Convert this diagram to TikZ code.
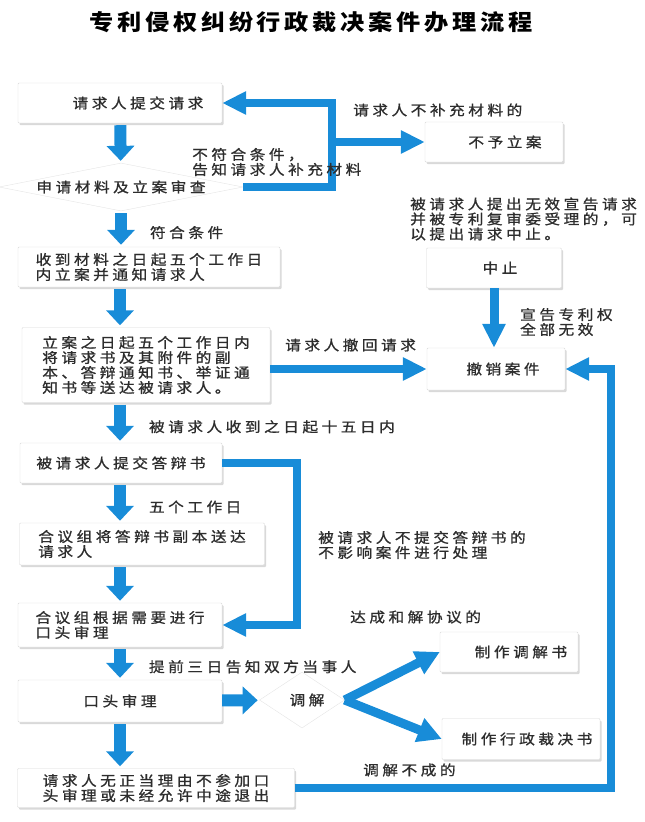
\documentclass[tikz,border=0pt]{standalone}
\usepackage{fontspec}
\newfontfamily\cjk[FakeStretch=1.12,LetterSpace=25,FakeBold=1]{Noto Sans CJK SC}
\newfontfamily\cjktitle[FakeStretch=1.1,LetterSpace=17]{Noto Sans CJK SC}
\usepackage{tikz}
\usetikzlibrary{arrows.meta,shapes.geometric,shadows}
\definecolor{linkblue}{RGB}{24,140,216}
\definecolor{txt}{RGB}{45,45,45}

\begin{document}
\begin{tikzpicture}[x=1pt,y=-1pt,
    every node/.style={font=\cjk\fontsize{14}{15}\selectfont,text=txt},
    box/.style={draw=black!15,fill=white,rounded corners=1pt,minimum height=40pt,align=left,
      drop shadow={shadow xshift=1.5pt,shadow yshift=-2pt,opacity=.3}},
    dia/.style={diamond,draw=black!10,fill=white,inner sep=0pt},
    lbl/.style={inner sep=0pt,align=left},
    down/.style={linkblue,line width=12pt,-{Triangle[width=27pt,length=15pt]},shorten >=2pt,shorten <=2pt},
    link/.style={linkblue,line width=7.5pt,-{Triangle[width=22pt,length=24pt]}},
    fork/.style={linkblue,line width=9pt,-{Triangle[width=24pt,length=24pt]}}]
    \useasboundingbox (0,0) rectangle (645,822);

    \node[font=\cjktitle\bfseries\fontsize{22}{24}\selectfont,text=black] at (311,22) (title) {专利侵权纠纷行政裁决案件办理流程};

    \node[box,minimum width=204pt] at (120,103) (req) {\hspace*{36pt}请求人提交请求};
    \node[dia,aspect=5,minimum width=244pt,minimum height=48pt] at (121,187) (chk) {申请材料及立案审查};
    \node[box,minimum width=262pt] at (149,267) (ok) {收到材料之日起五个工作日\\内立案并通知请求人};
    \node[box,minimum width=248pt,minimum height=75pt] at (146,365) (serve) {立案之日起五个工作日内\\将请求书及其附件的副\\本、答辩通知书、举证通\\知书等送达被请求人。};
    \node[box,minimum width=202pt] at (121,463) (reply) {被请求人提交答辩书};
    \node[box,minimum width=245pt,minimum height=42pt] at (142,544) (copy) {合议组将答辩书副本送达\\请求人};
    \node[box,minimum width=204pt,minimum height=44pt] at (120,625) (plan) {合议组根据需要进行\\口头审理};
    \node[box,minimum width=204pt,minimum height=42pt] at (120,701) (hear) {口头审理};
    \node[box,minimum width=277pt,minimum height=39pt] at (156,788) (quit) {请求人无正当理由不参加口\\头审理或未经允许中途退出};
    \node[box,minimum width=138pt] at (494,142) (reject) {\hspace*{22pt}不予立案};
    \node[box,minimum width=135pt] at (494,268) (pause) {\hspace*{12pt}中止};
    \node[box,minimum width=138pt,minimum height=42pt] at (496,369) (cancel) {\hspace*{14pt}撤销案件};
    \node[dia,aspect=1.5,minimum width=85pt,minimum height=56pt] at (302,700) (med) {\hspace*{10pt}调解};
    \node[box,minimum width=138pt] at (509,652) (deal) {\hspace*{24pt}制作调解书};
    \node[box,minimum width=158pt,minimum height=41pt] at (521,739) (rule) {\hspace*{12pt}制作行政裁决书};

    \coordinate (j1) at (332,187);
    \coordinate (j2) at (332,142);
    \coordinate (k1) at (297,463);
    \coordinate (k2) at (611,788);

    \draw[down] (req) -- (chk);
    \draw[down] (chk.south) -- node[lbl,right=23pt,pos=.6] (c1) {符合条件} (chk.south |- ok.north);
    \draw[down] (req |- ok.south) -- (req |- serve.north);
    \draw[down] (req |- serve.south) -- node[lbl,right=23pt,pos=.6] (c2) {被请求人收到之日起十五日内} (req |- reply.north);
    \draw[down] (req |- reply.south) -- node[lbl,right=23pt,pos=.6] (c3) {五个工作日} (req |- copy.north);
    \draw[down] (req |- copy.south) -- (req |- plan.north);
    \draw[down] (plan) -- node[lbl,right=23pt,pos=.6] (c4) {提前三日告知双方当事人} (hear);
    \draw[down] (hear) -- (quit.north -| hear);
    \draw[down,shorten <=0pt] (hear) -- (med);

    \draw[link] (chk.east) -- (j1) |- (req.east);
    \draw[link] (j2) -- (reject.west);
    \draw[link] (serve.east |- cancel) -- (cancel.west);
    \draw[link,line width=9pt] (pause.south) -- (pause.south |- cancel.north);
    \draw[link] (reply.east) -- (k1) |- (plan.east);
    \draw[link] (quit.east) -- (k2) |- (cancel.east);
    \draw[fork] (med.east) -- (deal.west);
    \draw[fork] (med.east) -- (rule.west);

    \node[lbl,anchor=west] at (192,162) (lack) {不符合条件，\\告知请求人补充材料};
    \node[lbl,anchor=west] at (353,110) (nomore) {请求人不补充材料的};
    \node[lbl,anchor=west] at (410,219) (invalid) {被请求人提出无效宣告请求\\并被专利复审委受理的，可\\以提出请求中止。};
    \node[lbl,anchor=west] at (520,322) (void) {宣告专利权\\全部无效};
    \node[lbl,anchor=west] at (285,345) (back) {请求人撤回请求};
    \node[lbl,anchor=west] at (318,545) (noreply) {被请求人不提交答辩书的\\不影响案件进行处理};
    \node[lbl,anchor=west] at (350,617) (agree) {达成和解协议的};
    \node[lbl,anchor=west] at (363,770) (fail) {调解不成的};
\end{tikzpicture}
\end{document}
